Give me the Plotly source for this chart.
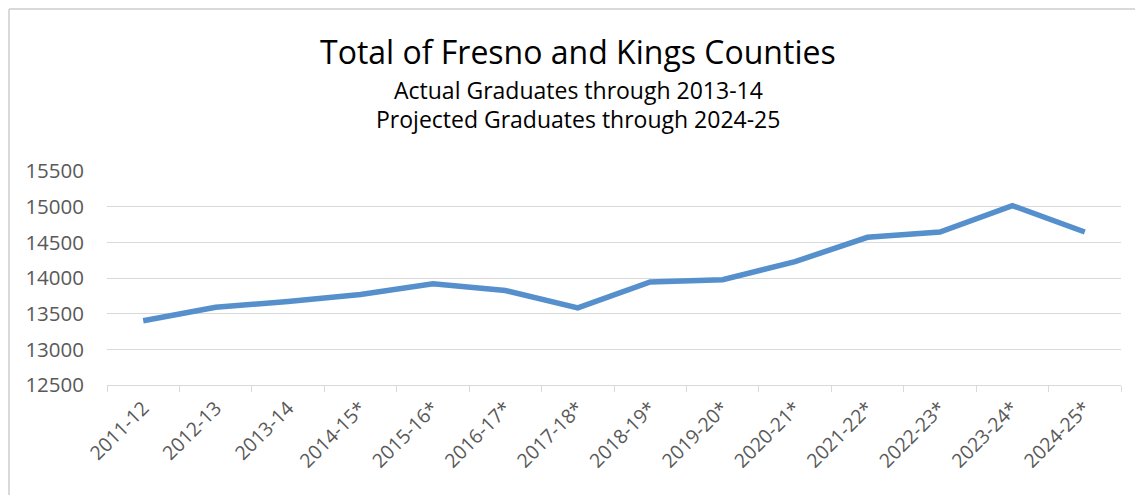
import plotly.graph_objects as go

years = ["2011-12", "2012-13", "2013-14", "2014-15*", "2015-16*", "2016-17*", "2017-18*",
         "2018-19*", "2019-20*", "2020-21*", "2021-22*", "2022-23*", "2023-24*", "2024-25*"]
graduates = [13400, 13590, 13670, 13770, 13920, 13825, 13580,
             13945, 13975, 14230, 14570, 14645, 15015, 14645]
y_ticks = [12500, 13000, 13500, 14000, 14500, 15000, 15500]

title = "Total of Fresno and Kings Counties"
subtitle1 = "Actual Graduates through 2013-14"
subtitle2 = "Projected Graduates through 2024-25"

FONT = "Open Sans"

# page has an 8px body margin; figure is sized to fill the rest of the window
W, H = 1135, 487
L, R, T, B = 99, 22, 163, 110
PW, PH = W - L - R, H - T - B

fig = go.Figure()
fig.add_trace(go.Scatter(
    x=years, y=graduates, mode="lines",
    line=dict(color="#5590CC", width=5.5),
    hoverinfo="x+y",
))

fig.update_layout(
    width=W, height=H,
    margin=dict(l=L, r=R, t=T, b=B),
    paper_bgcolor="white", plot_bgcolor="white",
    showlegend=False,
    font=dict(family=FONT, color="#595959"),
    xaxis=dict(
        type="category", tickangle=-45, tickson="boundaries",
        range=[-0.5, len(years) - 0.5], automargin=False,
        ticks="outside", ticklen=6, tickcolor="#D9D9D9",
        showline=True, linecolor="#D9D9D9", linewidth=1,
        showgrid=False, tickfont=dict(size=19.5, color="#595959"),
        ticklabelstandoff=3,
    ),
    yaxis=dict(
        range=[12500, 15500], tickvals=y_ticks, ticktext=[str(v) for v in y_ticks],
        automargin=False,
        showgrid=True, gridcolor="#D9D9D9", gridwidth=1,
        zeroline=False, showline=False, ticks="",
        tickfont=dict(size=20.5, color="#595959"), ticklabelstandoff=22,
    ),
)

cx = (570 - L) / PW
for text, ypos, size in [(title, 43.5, 32), (subtitle1, 82, 23), (subtitle2, 111, 23)]:
    fig.add_annotation(text=text, xref="paper", yref="paper", x=cx, y=1.0,
                       yshift=T - ypos, showarrow=False, yanchor="middle", xanchor="center",
                       font=dict(size=size, color="#000000", family=FONT))

# chart border (left and top edges visible)
bx = (1 - L) / PW
by = 1 + (T - 1) / PH
fig.add_shape(type="line", xref="paper", yref="paper",
              x0=bx, x1=1.2, y0=by, y1=by,
              line=dict(color="#D9D9D9", width=2))
fig.add_shape(type="line", xref="paper", yref="paper",
              x0=bx, x1=bx, y0=-1, y1=by,
              line=dict(color="#D9D9D9", width=2))

fig.write_html("out.html")
